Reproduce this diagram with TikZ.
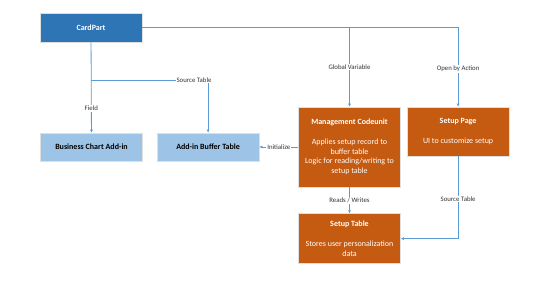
\documentclass[tikz,border=0pt]{standalone}
\usepackage{fontspec}
\setmainfont{Carlito}
\usepackage{tikz}
\usetikzlibrary{arrows.meta,positioning}

\definecolor{darkblue}{HTML}{2E75B6}
\definecolor{lightblue}{HTML}{9DC3E6}
\definecolor{rust}{HTML}{C55A11}
\definecolor{linkblue}{HTML}{5B9BD5}

\begin{document}
\begin{tikzpicture}[
    x=1pt, y=-1pt,
    every node/.style={align=center, font=\fontsize{8}{9.7}\selectfont},
    box/.style={draw=gray!25, line width=0.6pt, minimum width=102pt, inner sep=2pt},
    mainbox/.style={box, fill=darkblue, text=white, minimum height=29pt, font=\fontsize{8}{9.7}\selectfont\bfseries},
    addin/.style={box, fill=lightblue, text=black, minimum height=28pt, font=\fontsize{8}{9.7}\selectfont\bfseries},
    logic/.style={box, fill=rust, text=white},
    link/.style={draw=linkblue, line width=0.8pt, -{Latex[length=3pt,width=3pt]}},
    tag/.style={fill=white, inner sep=1pt, text=black!80, font=\fontsize{6.8}{7}\selectfont}
]
\useasboundingbox (0,0) rectangle (550,285);

\node[mainbox] (cardpart) at (91,27.5) {CardPart};
\node[addin] (bizchart) at (91.5,147) {Business Chart Add-in};
\node[addin, right=14pt of bizchart] (buffer) {Add-in Buffer Table};
\node[logic, minimum height=80pt] (mgmt) at (349.5,147)
    {\textbf{Management Codeunit}\\[10pt]Applies setup record to\\buffer table\\Logic for reading/writing to\\setup table};
\node[logic, minimum height=49pt, anchor=north west] (setuppage) at ([xshift=6pt]mgmt.north east)
    {\textbf{Setup Page}\\[10pt]UI to customize setup};
\node[logic, minimum height=50pt, below=26pt of mgmt] (setuptable)
    {\textbf{Setup Table}\\[10pt]Stores user personalization\\data};

% From the card part
\coordinate (split) at (cardpart.south |- 0,80);
\draw[link] (cardpart) -- node[tag, pos=0.73] {Field} (bizchart);
\draw[link] (split) -| node[tag, pos=0.44] {Source Table} (buffer);
\draw[link] (cardpart) -| node[tag, pos=0.76] {Open by Action} (setuppage);
\draw[link] (cardpart.east -| mgmt.north) -- node[tag] {Global Variable} (mgmt);

% Setup logic
\draw[link] (mgmt.west |- buffer) -- node[tag] {Initialize} (buffer);
\draw[link] (mgmt) -- node[tag] {Reads / Writes} (setuptable);
\draw[link] (setuppage) |- node[tag, pos=0.26] {Source Table} (setuptable);

\end{tikzpicture}
\end{document}
